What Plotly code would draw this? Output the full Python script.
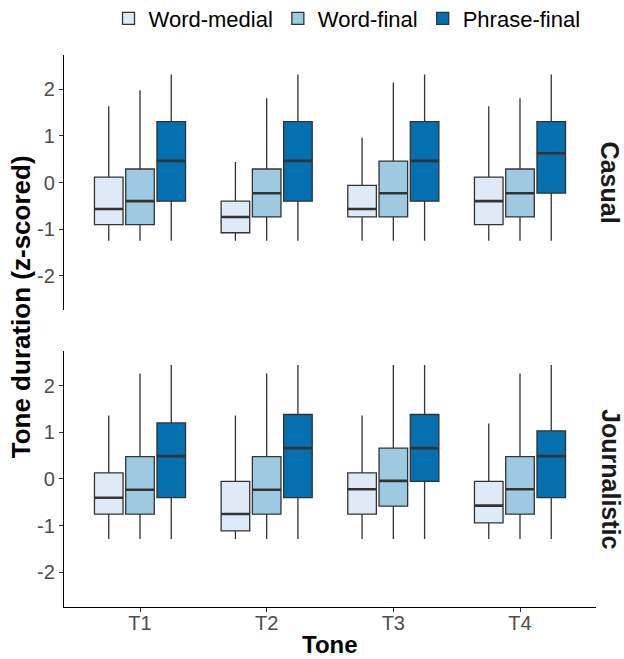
import plotly.graph_objects as go

tones = ["T1", "T2", "T3", "T4"]
groups = ["Word-medial", "Word-final", "Phrase-final"]
colors = ["#DEEBF7", "#9ECAE1", "#0570B0"]
facets = ["Casual", "Journalistic"]

# stats per facet -> group -> list over tones
casual = {
    "Word-medial": dict(low=[-1.25, -1.25, -1.25, -1.25], q1=[-0.905, -1.08, -0.74, -0.905],
                        med=[-0.57, -0.74, -0.57, -0.40], q3=[0.115, -0.40, -0.06, 0.115],
                        high=[1.64, 0.44, 0.96, 1.64]),
    "Word-final": dict(low=[-1.25, -1.25, -1.25, -1.25], q1=[-0.905, -0.74, -0.74, -0.74],
                       med=[-0.40, -0.23, -0.23, -0.23], q3=[0.29, 0.29, 0.46, 0.29],
                       high=[1.98, 1.81, 2.15, 1.81]),
    "Phrase-final": dict(low=[-1.25, -1.25, -1.25, -1.25], q1=[-0.40, -0.40, -0.40, -0.23],
                         med=[0.465, 0.465, 0.465, 0.63], q3=[1.31, 1.31, 1.31, 1.31],
                         high=[2.32, 2.32, 2.32, 2.32]),
}
journalistic = {
    "Word-medial": dict(low=[-1.285, -1.285, -1.285, -1.285], q1=[-0.75, -1.11, -0.75, -0.94],
                        med=[-0.40, -0.75, -0.22, -0.57], q3=[0.13, -0.05, 0.13, -0.05],
                        high=[1.36, 1.36, 1.36, 1.19]),
    "Word-final": dict(low=[-1.285, -1.285, -1.285, -1.285], q1=[-0.75, -0.75, -0.58, -0.75],
                       med=[-0.23, -0.23, -0.04, -0.22], q3=[0.48, 0.48, 0.66, 0.48],
                       high=[2.26, 2.26, 2.44, 2.26]),
    "Phrase-final": dict(low=[-1.285, -1.285, -1.285, -1.285], q1=[-0.40, -0.40, -0.05, -0.40],
                         med=[0.49, 0.66, 0.66, 0.49], q3=[1.20, 1.38, 1.38, 1.03],
                         high=[2.44, 2.44, 2.44, 2.44]),
}
facet_data = {"Casual": casual, "Journalistic": journalistic}

ytick_vals = [-2, -1, 0, 1, 2]
ytick_text = ["-2", "-1", "0", "1", "2"]

fig = go.Figure()
axes = {"Casual": ("x2", "y"), "Journalistic": ("x", "y2")}
for fi, facet in enumerate(facets):
    xa, ya = axes[facet]
    for g, c in zip(groups, colors):
        d = facet_data[facet][g]
        fig.add_trace(go.Box(
            x=tones, q1=d["q1"], median=d["med"], q3=d["q3"],
            lowerfence=d["low"], upperfence=d["high"],
            name=g, legendgroup=g, showlegend=(fi == 0),
            offsetgroup=g, alignmentgroup="a" + facet,
            fillcolor=c, line=dict(color="#333333", width=1.3),
            whiskerwidth=0, boxpoints=False, hoverinfo="skip",
            xaxis=xa, yaxis=ya,
        ))
    for g, c in zip(groups, colors):
        d = facet_data[facet][g]
        fig.add_trace(go.Box(
            x=tones, q1=d["med"], median=d["med"], q3=d["med"],
            lowerfence=d["med"], upperfence=d["med"],
            name=g, legendgroup=g, showlegend=False,
            offsetgroup=g, alignmentgroup="a" + facet,
            fillcolor="rgba(0,0,0,0)", line=dict(color="#333333", width=2.6),
            whiskerwidth=0, boxpoints=False, hoverinfo="skip",
            xaxis=xa, yaxis=ya,
        ))

FONT = "Liberation Sans, Arial, sans-serif"
tickfont = dict(family=FONT, size=20, color="#4d4d4d")
yrange = [-2.74, 2.74]
common_y = dict(range=yrange, tickvals=ytick_vals, ticktext=ytick_text, showgrid=False,
                zeroline=False, showline=True, linecolor="black", linewidth=1.2,
                ticks="outside", ticklen=4, tickcolor="#333333", tickwidth=1,
                tickfont=tickfont)
xrange = [-0.6, 3.6]

fig.update_layout(
    width=624, height=659,
    margin=dict(l=64, r=28, t=55, b=52, autoexpand=False),
    plot_bgcolor="white", paper_bgcolor="white",
    boxmode="group", boxgap=0.26, boxgroupgap=0.085,
    font=dict(family=FONT, color="black"),
    legend=dict(orientation="h", x=0.532, xanchor="center", y=1.066, yanchor="middle",
                font=dict(size=22, color="black"), itemwidth=30, traceorder="normal",
                bgcolor="rgba(0,0,0,0)"),
    yaxis=dict(domain=[0.538, 1.0], anchor="x2", **common_y),
    yaxis2=dict(domain=[0.0, 0.4638], anchor="x", **common_y),
    xaxis=dict(domain=[0, 1], anchor="y2", range=xrange, showgrid=False, zeroline=False,
               showline=True, linecolor="black", linewidth=1.2, ticks="outside", ticklen=4,
               tickcolor="#333333", tickfont=tickfont, type="category",
               ticklabelstandoff=-6,
               categoryorder="array", categoryarray=tones),
    xaxis2=dict(domain=[0, 1], anchor="y", range=xrange, showgrid=False, zeroline=False,
                showline=False, showticklabels=False, ticks="", type="category",
                categoryorder="array", categoryarray=tones),
    annotations=[
        dict(text="<b>Casual</b>", x=1.028, y=(0.538 + 1.0) / 2, xref="paper", yref="paper",
             textangle=90, showarrow=False, font=dict(size=25, color="#1a1a1a"),
             xanchor="center", yanchor="middle"),
        dict(text="<b>Journalistic</b>", x=1.028, y=0.4638 / 2, xref="paper", yref="paper",
             textangle=90, showarrow=False, font=dict(size=25, color="#1a1a1a"),
             xanchor="center", yanchor="middle"),
        dict(text="<b>Tone duration (z-scored)</b>", x=-0.0808, y=0.543, xref="paper", yref="paper",
             textangle=-90, showarrow=False, font=dict(size=26, color="black"),
             xanchor="center", yanchor="middle"),
        dict(text="<b>Tone</b>", x=0.5, y=-0.0688, xref="paper", yref="paper",
             showarrow=False, font=dict(size=24, color="black"),
             xanchor="center", yanchor="middle"),
    ],
)

fig.write_html("out.html")
